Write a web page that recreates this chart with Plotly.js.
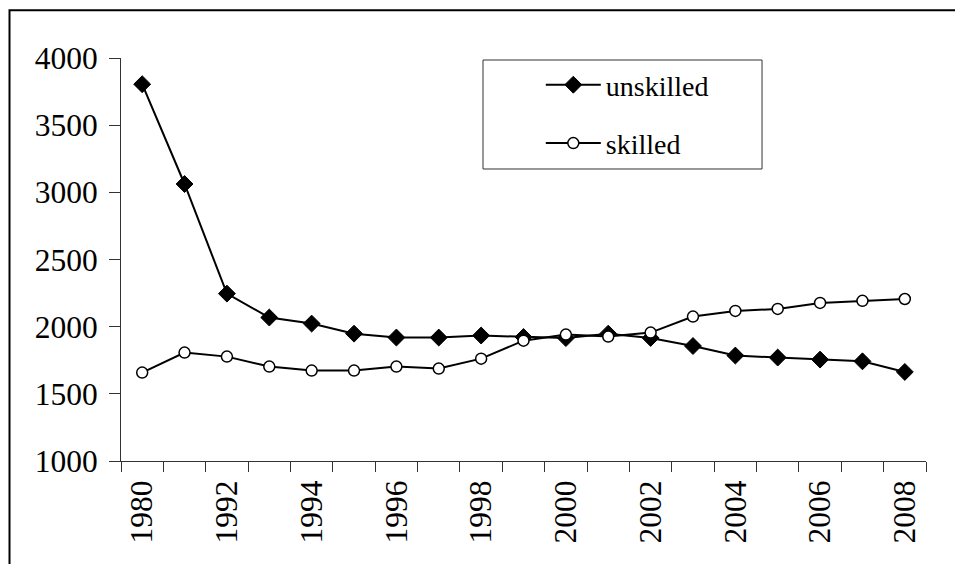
<!DOCTYPE html>
<html>
<head>
<meta charset="utf-8">
<script src="https://cdn.plot.ly/plotly-3.0.1.min.js"></script>
<style>html,body{margin:0;padding:0;background:#fff;}#chart{width:955px;height:564px;}</style>
</head>
<body>
<div id="chart"></div>
<script>
const years = ["1980","1990","1992","1993","1994","1995","1996","1997","1998","1999","2000","2001","2002","2003","2004","2005","2006","2007","2008"];
const tickLabels = ["1980","","1992","","1994","","1996","","1998","","2000","","2002","","2004","","2006","","2008"];
const unskilled = [3805,3062,2246,2068,2023,1948,1919,1919,1934,1923,1915,1948,1916,1856,1785,1770,1755,1742,1663];
const skilled = [1658,1807,1777,1703,1673,1673,1703,1688,1762,1896,1941,1926,1956,2075,2117,2132,2177,2192,2206];

const font = "Liberation Serif";

const traces = [
  {x: years, y: unskilled, name: "unskilled", type: "scatter", mode: "lines+markers",
   legendgroup: "a",
   line: {color: "#000", width: 2},
   marker: {symbol: "diamond", size: 13, color: "#000", line: {color: "#000", width: 1}}},
  {x: years, y: skilled, name: "skilled", type: "scatter", mode: "lines+markers",
   legendgroup: "b",
   line: {color: "#000", width: 2},
   marker: {symbol: "circle", size: 11, color: "#fff", line: {color: "#000", width: 1.5}}}
];

const layout = {
  width: 955, height: 564,
  margin: {l: 121, r: 29, t: 58, b: 103, pad: 0},
  paper_bgcolor: "#fff", plot_bgcolor: "#fff",
  font: {family: font, color: "#000", size: 30},
  showlegend: true,
  legend: {x: 0.5215, y: 0.995, xanchor: "left", yanchor: "top",
           bgcolor: "rgba(0,0,0,0)", borderwidth: 0,
           font: {family: font, size: 28, color: "#000"},
           traceorder: "grouped", tracegroupgap: 19, itemwidth: 55},
  xaxis: {type: "category", range: [-0.5, 18.5], tickmode: "array", tickvals: years, ticktext: tickLabels,
          tickson: "boundaries", ticks: "outside", ticklen: 10, tickwidth: 1, tickcolor: "#333",
          tickangle: -90, showline: true, linecolor: "#333", linewidth: 1, ticklabelstandoff: 6,
          showgrid: false, zeroline: false, tickfont: {family: font, size: 31.5, color: "#000"}},
  yaxis: {range: [1000, 4000], dtick: 500, tick0: 1000, ticks: "outside", ticklen: 11, tickwidth: 1,
          tickcolor: "#333", showline: true, linecolor: "#333", linewidth: 1, ticklabelstandoff: 5,
          showgrid: false, zeroline: false, tickfont: {family: font, size: 31.5, color: "#000"}},
  shapes: [
    {type: "rect", xref: "paper", yref: "paper", x0: -0.1385, x1: 1.2, y0: -0.4, y1: 1.1184,
     line: {color: "#000", width: 2}, fillcolor: "rgba(0,0,0,0)", layer: "below"},
    {type: "rect", xref: "paper", yref: "paper", x0: 0.4497, x1: 0.7963, y0: 0.7246, y1: 0.995,
     line: {color: "#333", width: 1}, fillcolor: "#fff", layer: "below"}
  ]
};

Plotly.newPlot("chart", traces, layout, {staticPlot: true, displayModeBar: false});
</script>
</body>
</html>
